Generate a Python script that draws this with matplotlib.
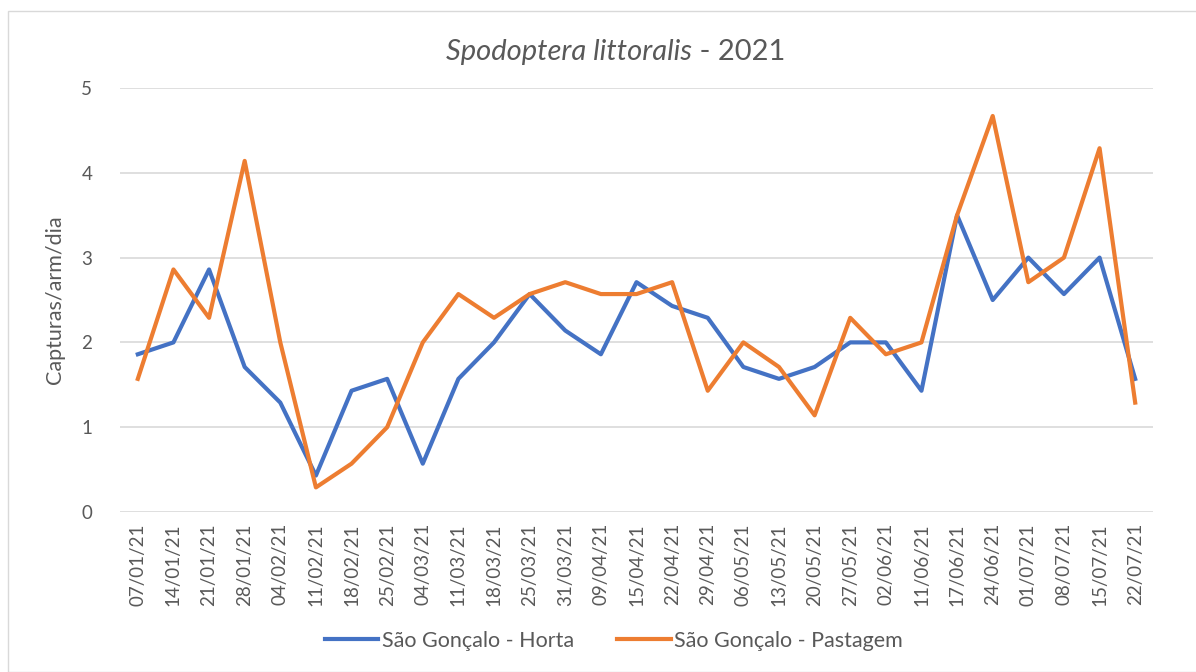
import matplotlib
matplotlib.use("Agg")
import matplotlib.pyplot as plt
from matplotlib.patches import Rectangle

plt.rcParams["font.family"] = ["Lato", "DejaVu Sans"]

DATES = ["07/01/21", "14/01/21", "21/01/21", "28/01/21", "04/02/21", "11/02/21",
         "18/02/21", "25/02/21", "04/03/21", "11/03/21", "18/03/21", "25/03/21",
         "31/03/21", "09/04/21", "15/04/21", "22/04/21", "29/04/21", "06/05/21",
         "13/05/21", "20/05/21", "27/05/21", "02/06/21", "11/06/21", "17/06/21",
         "24/06/21", "01/07/21", "08/07/21", "15/07/21", "22/07/21"]
HORTA = [1.86, 2.00, 2.86, 1.71, 1.29, 0.43, 1.43, 1.57, 0.57, 1.57, 2.00, 2.57,
         2.14, 1.86, 2.71, 2.43, 2.29, 1.71, 1.57, 1.71, 2.00, 2.00, 1.43, 3.50,
         2.50, 3.00, 2.57, 3.00, 1.57]
PASTAGEM = [1.57, 2.86, 2.29, 4.14, 2.00, 0.29, 0.57, 1.00, 2.00, 2.57, 2.29, 2.57,
            2.71, 2.57, 2.57, 2.71, 1.43, 2.00, 1.71, 1.14, 2.29, 1.86, 2.00, 3.50,
            4.67, 2.71, 3.00, 4.29, 1.29]

BLUE = "#4472c4"
ORANGE = "#ed7d31"
GREY = "#595959"

fig = plt.figure(figsize=(11.96, 6.72), dpi=100)
# chart-area border
fig.patches.append(Rectangle((8 / 1196, 0.0), 1.2, (672 - 11) / 672, transform=fig.transFigure,
                             fill=False, ec="#d9d9d9", lw=1.0))
ax = fig.add_axes([120 / 1196, (672 - 512) / 672, (1153 - 120) / 1196, (512 - 88) / 672])

x = range(len(DATES))
ax.plot(x, HORTA, color=BLUE, lw=3.0, label="São Gonçalo - Horta", solid_joinstyle="round")
ax.plot(x, PASTAGEM, color=ORANGE, lw=3.0, label="São Gonçalo - Pastagem", solid_joinstyle="round")

ax.set_xlim(-0.5, len(DATES) - 0.5)
ax.set_ylim(0, 5)
ax.set_yticks([0, 1, 2, 3, 4, 5])
ax.set_xticks(list(x))
ax.set_xticklabels(DATES, rotation=90, fontsize=13.5, color=GREY)
ax.tick_params(axis="y", labelsize=13.5, labelcolor=GREY, length=0, pad=20)
ax.tick_params(axis="x", length=0, pad=8)
ax.grid(axis="y", color="#d9d9d9", lw=1.2)
ax.set_axisbelow(True)
for s in ax.spines.values():
    s.set_visible(False)

ax.set_ylabel("Capturas/arm/dia", fontsize=15.5, color=GREY, labelpad=12)

# title: italic species name + plain year
ty = (672 - 52) / 672
fig.text(692 / 1196, ty, "Spodoptera littoralis", ha="right", va="center",
         fontsize=21, color=GREY, style="italic")
fig.text(692 / 1196, ty, " - 2021", ha="left", va="center", fontsize=21, color=GREY)

fig.legend(loc="center", bbox_to_anchor=(0.513, (672 - 641) / 672), ncol=2, frameon=False,
           fontsize=15.5, labelcolor=GREY, handlelength=2.5, handletextpad=0.15, columnspacing=2.0)

fig.savefig("out.png", dpi=100)
